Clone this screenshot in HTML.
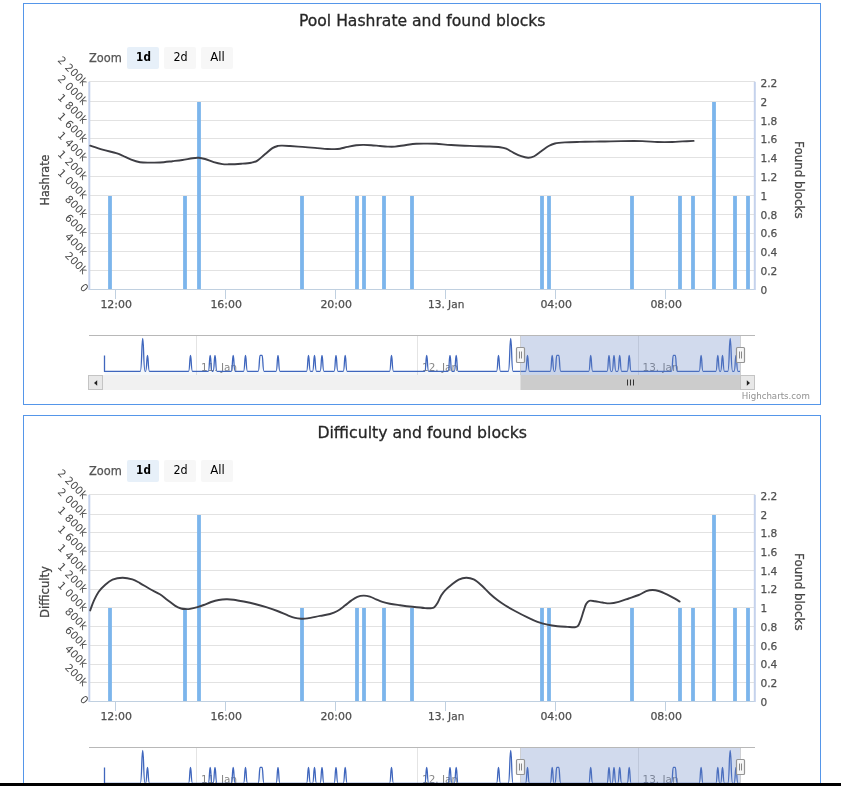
<!DOCTYPE html>
<html lang="en">
<head>
<meta charset="utf-8">
<title>Pool statistics</title>
<style>
html,body{margin:0;padding:0;background:#fff;overflow:hidden;}
body{width:841px;height:786px;position:relative;font-family:"DejaVu Sans", "Liberation Sans", sans-serif;}
.chart{position:absolute;left:23px;width:796px;height:400px;border:1px solid #5596e9;background:#fff;overflow:hidden;}
#hashrate{top:3px;}
#difficulty{top:415px;}
.chart svg{display:block;font-family:"DejaVu Sans", "Liberation Sans", sans-serif;}
.bar{position:absolute;left:0;top:783px;width:841px;height:3px;background:#000;}
</style>
</head>
<body>
<div class="chart" id="hashrate">
<svg width="796" height="400" viewBox="24 4 796 400">
<g stroke="#e2e2e2" stroke-width="1" fill="none">
<path d="M89.0 81.50H755.0"/>
<path d="M89.0 101.50H755.0"/>
<path d="M89.0 120.50H755.0"/>
<path d="M89.0 138.50H755.0"/>
<path d="M89.0 157.50H755.0"/>
<path d="M89.0 176.50H755.0"/>
<path d="M89.0 195.50H755.0"/>
<path d="M89.0 214.50H755.0"/>
<path d="M89.0 233.50H755.0"/>
<path d="M89.0 251.50H755.0"/>
<path d="M89.0 270.50H755.0"/>
</g>
<g fill="#7cb5ec">
<rect x="108.1" y="196.00" width="3.8" height="93.50"/>
<rect x="183.1" y="196.00" width="3.8" height="93.50"/>
<rect x="197.1" y="102.00" width="3.8" height="187.50"/>
<rect x="300.1" y="196.00" width="3.8" height="93.50"/>
<rect x="355.1" y="196.00" width="3.8" height="93.50"/>
<rect x="362.1" y="196.00" width="3.8" height="93.50"/>
<rect x="382.1" y="196.00" width="3.8" height="93.50"/>
<rect x="410.1" y="196.00" width="3.8" height="93.50"/>
<rect x="540.1" y="196.00" width="3.8" height="93.50"/>
<rect x="547.1" y="196.00" width="3.8" height="93.50"/>
<rect x="630.1" y="196.00" width="3.8" height="93.50"/>
<rect x="678.1" y="196.00" width="3.8" height="93.50"/>
<rect x="691.1" y="196.00" width="3.8" height="93.50"/>
<rect x="712.1" y="102.00" width="3.8" height="187.50"/>
<rect x="733.1" y="196.00" width="3.8" height="93.50"/>
<rect x="746.1" y="196.00" width="3.8" height="93.50"/>
</g>
<g stroke="#c0d0e0" stroke-width="1" fill="none">
<path d="M89.0 289.5H755.0"/>
<path d="M115.5 289.5V299.0"/>
<path d="M225.5 289.5V299.0"/>
<path d="M335.5 289.5V299.0"/>
<path d="M445.5 289.5V299.0"/>
<path d="M555.5 289.5V299.0"/>
<path d="M665.5 289.5V299.0"/>
</g>
<g stroke="#c5d2ec" stroke-width="2" fill="none">
<path d="M89.3 81.8V290.0"/>
<path d="M754.8 81.8V290.0"/>
</g>
<path d="M90.20 145.70C92.25 146.37 98.17 148.47 102.50 149.70C106.83 150.93 112.87 152.12 116.20 153.10C119.53 154.08 120.00 154.50 122.50 155.60C125.00 156.70 128.28 158.60 131.20 159.70C134.12 160.80 136.87 161.72 140.00 162.20C143.13 162.68 146.67 162.55 150.00 162.60C153.33 162.65 156.27 162.73 160.00 162.50C163.73 162.27 168.67 161.62 172.40 161.20C176.13 160.78 179.05 160.50 182.40 160.00C185.75 159.50 189.78 158.57 192.50 158.20C195.22 157.83 196.62 157.67 198.70 157.80C200.78 157.93 202.50 158.27 205.00 159.00C207.50 159.73 210.78 161.35 213.70 162.20C216.62 163.05 220.00 163.75 222.50 164.10C225.00 164.45 225.58 164.37 228.70 164.30C231.82 164.23 237.45 163.97 241.20 163.70C244.95 163.43 248.50 163.22 251.20 162.70C253.90 162.18 255.12 162.00 257.40 160.60C259.68 159.20 262.40 156.38 264.90 154.30C267.40 152.22 270.22 149.50 272.40 148.10C274.58 146.70 276.33 146.32 278.00 145.90C279.67 145.48 280.40 145.58 282.40 145.60C284.40 145.62 286.65 145.78 290.00 146.00C293.35 146.22 298.33 146.58 302.50 146.90C306.67 147.22 310.83 147.55 315.00 147.90C319.17 148.25 324.38 148.80 327.50 149.00C330.62 149.20 331.62 149.15 333.70 149.10C335.78 149.05 337.72 149.07 340.00 148.70C342.28 148.33 344.70 147.48 347.40 146.90C350.10 146.32 353.48 145.53 356.20 145.20C358.92 144.87 361.20 144.90 363.70 144.90C366.20 144.90 368.50 145.02 371.20 145.20C373.90 145.38 377.20 145.77 379.90 146.00C382.60 146.23 384.88 146.50 387.40 146.60C389.92 146.70 392.07 146.83 395.00 146.60C397.93 146.37 401.47 145.67 405.00 145.20C408.53 144.73 412.67 144.07 416.20 143.80C419.73 143.53 422.87 143.60 426.20 143.60C429.53 143.60 432.03 143.57 436.20 143.80C440.37 144.03 445.57 144.65 451.20 145.00C456.83 145.35 463.55 145.65 470.00 145.90C476.45 146.15 484.90 146.28 489.90 146.50C494.90 146.72 497.28 146.83 500.00 147.20C502.72 147.57 503.92 147.77 506.20 148.70C508.48 149.63 511.20 151.55 513.70 152.80C516.20 154.05 518.80 155.38 521.20 156.20C523.60 157.02 526.02 157.65 528.10 157.70C530.18 157.75 531.52 157.58 533.70 156.50C535.88 155.42 538.70 152.95 541.20 151.20C543.70 149.45 546.42 147.28 548.70 146.00C550.98 144.72 552.20 144.10 554.90 143.50C557.60 142.90 560.73 142.67 564.90 142.40C569.07 142.13 574.90 142.03 579.90 141.90C584.90 141.77 590.72 141.67 594.90 141.60C599.08 141.53 600.62 141.58 605.00 141.50C609.38 141.42 614.97 141.17 621.20 141.10C627.43 141.03 636.37 140.95 642.40 141.10C648.43 141.25 652.40 141.85 657.40 142.00C662.40 142.15 668.23 142.10 672.40 142.00C676.57 141.90 678.87 141.58 682.40 141.40C685.93 141.22 691.73 140.98 693.60 140.90" fill="none" stroke="#3e3e44" stroke-width="1.9" stroke-linejoin="round" stroke-linecap="round"/>
<text x="422.2" y="26" text-anchor="middle" font-size="16" fill="#262626" stroke="#262626" stroke-width="0.3" textLength="246.5" lengthAdjust="spacingAndGlyphs">Pool Hashrate and found blocks</text>
<text x="89" y="61.5" font-size="12" fill="#555" stroke="#555" stroke-width="0.25" textLength="32.8" lengthAdjust="spacingAndGlyphs">Zoom</text>
<rect x="127" y="47.0" width="32" height="22" rx="2" fill="#e7f0f9"/>
<text x="143.5" y="61.3" text-anchor="middle" font-size="12" fill="#000" font-weight="bold" textLength="14.8" lengthAdjust="spacingAndGlyphs">1d</text>
<rect x="164" y="47.0" width="32" height="22" rx="2" fill="#f7f7f7"/>
<text x="180.5" y="61.3" text-anchor="middle" font-size="12" fill="#000" textLength="14.2" lengthAdjust="spacingAndGlyphs">2d</text>
<rect x="201" y="47.0" width="32" height="22" rx="2" fill="#f7f7f7"/>
<text x="217.5" y="61.3" text-anchor="middle" font-size="12" fill="#000" textLength="14.6" lengthAdjust="spacingAndGlyphs">All</text>
<g font-size="10.6" fill="#4a4a4a" text-anchor="end" word-spacing="0.3">
<text x="83.0" y="86.7" transform="rotate(45 83.0 86.7)">2 200k</text>
<text x="83.0" y="105.5" transform="rotate(45 83.0 105.5)">2 000k</text>
<text x="83.0" y="124.3" transform="rotate(45 83.0 124.3)">1 800k</text>
<text x="83.0" y="143.1" transform="rotate(45 83.0 143.1)">1 600k</text>
<text x="83.0" y="161.9" transform="rotate(45 83.0 161.9)">1 400k</text>
<text x="83.0" y="180.7" transform="rotate(45 83.0 180.7)">1 200k</text>
<text x="83.0" y="199.6" transform="rotate(45 83.0 199.6)">1 000k</text>
<text x="83.0" y="218.4" transform="rotate(45 83.0 218.4)">800k</text>
<text x="83.0" y="237.2" transform="rotate(45 83.0 237.2)">600k</text>
<text x="83.0" y="256.0" transform="rotate(45 83.0 256.0)">400k</text>
<text x="83.0" y="274.8" transform="rotate(45 83.0 274.8)">200k</text>
<text x="84.0" y="292.8" transform="rotate(45 84.0 292.8)">0</text>
</g>
<g font-size="11" fill="#505050" stroke="#505050" stroke-width="0.25">
<text x="760.4" y="86.90" textLength="16.9" lengthAdjust="spacingAndGlyphs">2.2</text>
<text x="760.4" y="105.71" textLength="6.7" lengthAdjust="spacingAndGlyphs">2</text>
<text x="760.4" y="124.52" textLength="16.9" lengthAdjust="spacingAndGlyphs">1.8</text>
<text x="760.4" y="143.33" textLength="16.9" lengthAdjust="spacingAndGlyphs">1.6</text>
<text x="760.4" y="162.14" textLength="16.9" lengthAdjust="spacingAndGlyphs">1.4</text>
<text x="760.4" y="180.95" textLength="16.9" lengthAdjust="spacingAndGlyphs">1.2</text>
<text x="760.4" y="199.75" textLength="6.7" lengthAdjust="spacingAndGlyphs">1</text>
<text x="760.4" y="218.56" textLength="16.9" lengthAdjust="spacingAndGlyphs">0.8</text>
<text x="760.4" y="237.37" textLength="16.9" lengthAdjust="spacingAndGlyphs">0.6</text>
<text x="760.4" y="256.18" textLength="16.9" lengthAdjust="spacingAndGlyphs">0.4</text>
<text x="760.4" y="274.99" textLength="16.9" lengthAdjust="spacingAndGlyphs">0.2</text>
<text x="760.4" y="293.80" textLength="6.7" lengthAdjust="spacingAndGlyphs">0</text>
</g>
<g font-size="11" fill="#505050" stroke="#505050" stroke-width="0.25" text-anchor="middle">
<text x="116.2" y="308" textLength="31.6" lengthAdjust="spacingAndGlyphs">12:00</text>
<text x="226.2" y="308" textLength="31.6" lengthAdjust="spacingAndGlyphs">16:00</text>
<text x="336.2" y="308" textLength="31.6" lengthAdjust="spacingAndGlyphs">20:00</text>
<text x="446.2" y="308" textLength="36.3" lengthAdjust="spacingAndGlyphs">13. Jan</text>
<text x="556.2" y="308" textLength="31.6" lengthAdjust="spacingAndGlyphs">04:00</text>
<text x="666.2" y="308" textLength="31.6" lengthAdjust="spacingAndGlyphs">08:00</text>
</g>
<text x="49.4" y="180" text-anchor="middle" font-size="12" fill="#444" stroke="#444" stroke-width="0.25" transform="rotate(-90 49.4 180)" textLength="51" lengthAdjust="spacingAndGlyphs">Hashrate</text>
<text x="794.7" y="179.8" text-anchor="middle" font-size="12" fill="#444" stroke="#444" stroke-width="0.25" transform="rotate(90 794.7 179.8)" textLength="77.6" lengthAdjust="spacingAndGlyphs">Found blocks</text>
<g stroke="#e4e4e4" stroke-width="1" fill="none">
<path d="M196.5 336V375"/>
<path d="M417.5 336V375"/>
<path d="M638.5 336V375"/>
</g>
<g font-size="11" fill="#888">
<text x="201.0" y="371.2" textLength="36" lengthAdjust="spacingAndGlyphs">11. Jan</text>
<text x="422.0" y="371.2" textLength="36" lengthAdjust="spacingAndGlyphs">12. Jan</text>
<text x="642.5" y="371.2" textLength="36" lengthAdjust="spacingAndGlyphs">13. Jan</text>
</g>
<path d="M104.50 355.40 L104.50 371.40L140.20 371.40C141.95 371.40 141.57 338.40 142.70 338.40C143.82 338.40 143.45 371.40 145.20 371.40L145.50 371.40C146.90 371.40 146.60 355.40 147.50 355.40C148.40 355.40 148.10 371.40 149.50 371.40L188.50 371.40C189.90 371.40 189.60 355.40 190.50 355.40C191.40 355.40 191.10 371.40 192.50 371.40L208.20 371.40C209.60 371.40 209.30 355.40 210.20 355.40C211.10 355.40 210.80 371.40 212.20 371.40L213.00 371.40C214.40 371.40 214.10 355.40 215.00 355.40C215.90 355.40 215.60 371.40 217.00 371.40L231.20 371.40C232.60 371.40 232.30 355.40 233.20 355.40C234.10 355.40 233.80 371.40 235.20 371.40L243.50 371.40C244.90 371.40 244.60 355.40 245.50 355.40C246.40 355.40 246.10 371.40 247.50 371.40L258.10 371.40C259.50 371.40 259.20 355.40 260.10 355.40L262.10 355.40C263.00 355.40 262.70 371.40 264.10 371.40L276.00 371.40C277.40 371.40 277.10 355.40 278.00 355.40C278.90 355.40 278.60 371.40 280.00 371.40L306.50 371.40C307.90 371.40 307.60 355.40 308.50 355.40C309.40 355.40 309.10 371.40 310.50 371.40L312.50 371.40C313.90 371.40 313.60 355.40 314.50 355.40C315.40 355.40 315.10 371.40 316.50 371.40L320.00 371.40C321.40 371.40 321.10 355.40 322.00 355.40C322.90 355.40 322.60 371.40 324.00 371.40L334.00 371.40C335.40 371.40 335.10 355.40 336.00 355.40C336.90 355.40 336.60 371.40 338.00 371.40L343.20 371.40C344.60 371.40 344.30 355.40 345.20 355.40C346.10 355.40 345.80 371.40 347.20 371.40L389.50 371.40C390.90 371.40 390.60 355.40 391.50 355.40C392.40 355.40 392.10 371.40 393.50 371.40L424.70 371.40C426.10 371.40 425.80 355.40 426.70 355.40C427.60 355.40 427.30 371.40 428.70 371.40L448.00 371.40C449.40 371.40 449.10 355.40 450.00 355.40C450.90 355.40 450.60 371.40 452.00 371.40L454.20 371.40C455.60 371.40 455.30 355.40 456.20 355.40C457.10 355.40 456.80 371.40 458.20 371.40L496.50 371.40C497.90 371.40 497.60 355.40 498.50 355.40C499.40 355.40 499.10 371.40 500.50 371.40L508.20 371.40C509.95 371.40 509.57 338.40 510.70 338.40C511.82 338.40 511.45 371.40 513.20 371.40L525.50 371.40C526.90 371.40 526.60 355.40 527.50 355.40C528.40 355.40 528.10 371.40 529.50 371.40L550.20 371.40C551.60 371.40 551.30 355.40 552.20 355.40C553.10 355.40 552.80 371.40 554.20 371.40L554.80 371.40C556.20 371.40 555.90 355.40 556.80 355.40L558.80 355.40C559.70 355.40 559.40 371.40 560.80 371.40L588.70 371.40C590.10 371.40 589.80 355.40 590.70 355.40C591.60 355.40 591.30 371.40 592.70 371.40L607.00 371.40C608.40 371.40 608.10 355.40 609.00 355.40C609.90 355.40 609.60 371.40 611.00 371.40L612.00 371.40C613.40 371.40 613.10 355.40 614.00 355.40C614.90 355.40 614.60 371.40 616.00 371.40L617.70 371.40C619.10 371.40 618.80 355.40 619.70 355.40C620.60 355.40 620.30 371.40 621.70 371.40L627.20 371.40C628.60 371.40 628.30 355.40 629.20 355.40C630.10 355.40 629.80 371.40 631.20 371.40L671.30 371.40C672.70 371.40 672.40 355.40 673.30 355.40L675.30 355.40C676.20 355.40 675.90 371.40 677.30 371.40L699.10 371.40C700.50 371.40 700.20 355.40 701.10 355.40C702.00 355.40 701.70 371.40 703.10 371.40L715.80 371.40C717.20 371.40 716.90 355.40 717.80 355.40C718.70 355.40 718.40 371.40 719.80 371.40L720.50 371.40C721.90 371.40 721.60 355.40 722.50 355.40C723.40 355.40 723.10 371.40 724.50 371.40L727.70 371.40C729.45 371.40 729.08 338.40 730.20 338.40C731.33 338.40 730.95 371.40 732.70 371.40L734.00 371.40C735.40 371.40 735.10 355.40 736.00 355.40C736.90 355.40 736.60 371.40 738.00 371.40L740.00 371.40 L740 375 L104.5 375Z" fill="#4572a7" fill-opacity="0.06" stroke="none"/>
<path d="M104.50 355.40 L104.50 371.40L140.20 371.40C141.95 371.40 141.57 338.40 142.70 338.40C143.82 338.40 143.45 371.40 145.20 371.40L145.50 371.40C146.90 371.40 146.60 355.40 147.50 355.40C148.40 355.40 148.10 371.40 149.50 371.40L188.50 371.40C189.90 371.40 189.60 355.40 190.50 355.40C191.40 355.40 191.10 371.40 192.50 371.40L208.20 371.40C209.60 371.40 209.30 355.40 210.20 355.40C211.10 355.40 210.80 371.40 212.20 371.40L213.00 371.40C214.40 371.40 214.10 355.40 215.00 355.40C215.90 355.40 215.60 371.40 217.00 371.40L231.20 371.40C232.60 371.40 232.30 355.40 233.20 355.40C234.10 355.40 233.80 371.40 235.20 371.40L243.50 371.40C244.90 371.40 244.60 355.40 245.50 355.40C246.40 355.40 246.10 371.40 247.50 371.40L258.10 371.40C259.50 371.40 259.20 355.40 260.10 355.40L262.10 355.40C263.00 355.40 262.70 371.40 264.10 371.40L276.00 371.40C277.40 371.40 277.10 355.40 278.00 355.40C278.90 355.40 278.60 371.40 280.00 371.40L306.50 371.40C307.90 371.40 307.60 355.40 308.50 355.40C309.40 355.40 309.10 371.40 310.50 371.40L312.50 371.40C313.90 371.40 313.60 355.40 314.50 355.40C315.40 355.40 315.10 371.40 316.50 371.40L320.00 371.40C321.40 371.40 321.10 355.40 322.00 355.40C322.90 355.40 322.60 371.40 324.00 371.40L334.00 371.40C335.40 371.40 335.10 355.40 336.00 355.40C336.90 355.40 336.60 371.40 338.00 371.40L343.20 371.40C344.60 371.40 344.30 355.40 345.20 355.40C346.10 355.40 345.80 371.40 347.20 371.40L389.50 371.40C390.90 371.40 390.60 355.40 391.50 355.40C392.40 355.40 392.10 371.40 393.50 371.40L424.70 371.40C426.10 371.40 425.80 355.40 426.70 355.40C427.60 355.40 427.30 371.40 428.70 371.40L448.00 371.40C449.40 371.40 449.10 355.40 450.00 355.40C450.90 355.40 450.60 371.40 452.00 371.40L454.20 371.40C455.60 371.40 455.30 355.40 456.20 355.40C457.10 355.40 456.80 371.40 458.20 371.40L496.50 371.40C497.90 371.40 497.60 355.40 498.50 355.40C499.40 355.40 499.10 371.40 500.50 371.40L508.20 371.40C509.95 371.40 509.57 338.40 510.70 338.40C511.82 338.40 511.45 371.40 513.20 371.40L525.50 371.40C526.90 371.40 526.60 355.40 527.50 355.40C528.40 355.40 528.10 371.40 529.50 371.40L550.20 371.40C551.60 371.40 551.30 355.40 552.20 355.40C553.10 355.40 552.80 371.40 554.20 371.40L554.80 371.40C556.20 371.40 555.90 355.40 556.80 355.40L558.80 355.40C559.70 355.40 559.40 371.40 560.80 371.40L588.70 371.40C590.10 371.40 589.80 355.40 590.70 355.40C591.60 355.40 591.30 371.40 592.70 371.40L607.00 371.40C608.40 371.40 608.10 355.40 609.00 355.40C609.90 355.40 609.60 371.40 611.00 371.40L612.00 371.40C613.40 371.40 613.10 355.40 614.00 355.40C614.90 355.40 614.60 371.40 616.00 371.40L617.70 371.40C619.10 371.40 618.80 355.40 619.70 355.40C620.60 355.40 620.30 371.40 621.70 371.40L627.20 371.40C628.60 371.40 628.30 355.40 629.20 355.40C630.10 355.40 629.80 371.40 631.20 371.40L671.30 371.40C672.70 371.40 672.40 355.40 673.30 355.40L675.30 355.40C676.20 355.40 675.90 371.40 677.30 371.40L699.10 371.40C700.50 371.40 700.20 355.40 701.10 355.40C702.00 355.40 701.70 371.40 703.10 371.40L715.80 371.40C717.20 371.40 716.90 355.40 717.80 355.40C718.70 355.40 718.40 371.40 719.80 371.40L720.50 371.40C721.90 371.40 721.60 355.40 722.50 355.40C723.40 355.40 723.10 371.40 724.50 371.40L727.70 371.40C729.45 371.40 729.08 338.40 730.20 338.40C731.33 338.40 730.95 371.40 732.70 371.40L734.00 371.40C735.40 371.40 735.10 355.40 736.00 355.40C736.90 355.40 736.60 371.40 738.00 371.40L740.00 371.40" fill="none" stroke="#3f66bd" stroke-width="1.3" stroke-linejoin="round"/>
<rect x="520.5" y="336" width="220" height="39" fill="rgb(102,133,194)" fill-opacity="0.3"/>
<path d="M520.5 336V375M740.5 336V375" stroke="#b8b8b8" stroke-opacity="0.55" stroke-width="1" fill="none"/>
<path d="M89 335.5H755" stroke="#b8b8b8" stroke-width="1" fill="none"/>
<rect x="89" y="375" width="666" height="15" fill="#f1f1f1"/>
<rect x="520.5" y="375" width="220" height="15" fill="#cccccc"/>
<path d="M627.5 379.5V385.5M630.5 379.5V385.5M633.5 379.5V385.5" stroke="#333" stroke-width="1" fill="none"/>
<rect x="88.5" y="375.5" width="14" height="14" fill="#e8e8e8" stroke="#c4c4c4" stroke-width="1"/>
<rect x="740.5" y="375.5" width="14" height="14" fill="#e8e8e8" stroke="#c4c4c4" stroke-width="1"/>
<path d="M94 383L97.2 380.2V385.8Z" fill="#222"/>
<path d="M750 383L746.8 380.2V385.8Z" fill="#222"/>
<rect x="516.5" y="347.5" width="8" height="15" rx="1" fill="#f6f6f6" stroke="#959595" stroke-width="1.2"/>
<path d="M519.5 351.5V358.5M521.5 351.5V358.5" stroke="#888" stroke-width="1" fill="none"/>
<rect x="736.5" y="347.5" width="8" height="15" rx="1" fill="#f6f6f6" stroke="#959595" stroke-width="1.2"/>
<path d="M739.5 351.5V358.5M741.5 351.5V358.5" stroke="#888" stroke-width="1" fill="none"/>
<text x="809.8" y="399" text-anchor="end" font-size="9" fill="#909090" textLength="68" lengthAdjust="spacingAndGlyphs">Highcharts.com</text>
</svg>
</div>
<div class="chart" id="difficulty">
<svg width="796" height="400" viewBox="24 4 796 400">
<g stroke="#e2e2e2" stroke-width="1" fill="none">
<path d="M89.0 82.50H755.0"/>
<path d="M89.0 102.50H755.0"/>
<path d="M89.0 120.50H755.0"/>
<path d="M89.0 139.50H755.0"/>
<path d="M89.0 158.50H755.0"/>
<path d="M89.0 177.50H755.0"/>
<path d="M89.0 195.50H755.0"/>
<path d="M89.0 214.50H755.0"/>
<path d="M89.0 233.50H755.0"/>
<path d="M89.0 252.50H755.0"/>
<path d="M89.0 270.50H755.0"/>
</g>
<g fill="#7cb5ec">
<rect x="108.1" y="196.00" width="3.8" height="93.50"/>
<rect x="183.1" y="196.00" width="3.8" height="93.50"/>
<rect x="197.1" y="103.00" width="3.8" height="186.50"/>
<rect x="300.1" y="196.00" width="3.8" height="93.50"/>
<rect x="355.1" y="196.00" width="3.8" height="93.50"/>
<rect x="362.1" y="196.00" width="3.8" height="93.50"/>
<rect x="382.1" y="196.00" width="3.8" height="93.50"/>
<rect x="410.1" y="196.00" width="3.8" height="93.50"/>
<rect x="540.1" y="196.00" width="3.8" height="93.50"/>
<rect x="547.1" y="196.00" width="3.8" height="93.50"/>
<rect x="630.1" y="196.00" width="3.8" height="93.50"/>
<rect x="678.1" y="196.00" width="3.8" height="93.50"/>
<rect x="691.1" y="196.00" width="3.8" height="93.50"/>
<rect x="712.1" y="103.00" width="3.8" height="186.50"/>
<rect x="733.1" y="196.00" width="3.8" height="93.50"/>
<rect x="746.1" y="196.00" width="3.8" height="93.50"/>
</g>
<g stroke="#c0d0e0" stroke-width="1" fill="none">
<path d="M89.0 289.5H755.0"/>
<path d="M115.5 289.5V299.0"/>
<path d="M225.5 289.5V299.0"/>
<path d="M335.5 289.5V299.0"/>
<path d="M445.5 289.5V299.0"/>
<path d="M555.5 289.5V299.0"/>
<path d="M665.5 289.5V299.0"/>
</g>
<g stroke="#c5d2ec" stroke-width="2" fill="none">
<path d="M89.3 82.8V290.0"/>
<path d="M754.8 82.8V290.0"/>
</g>
<path d="M90.20 198.40C90.78 196.87 92.28 192.30 93.70 189.20C95.12 186.10 96.82 182.50 98.70 179.80C100.58 177.10 102.70 175.02 105.00 173.00C107.30 170.98 109.58 168.92 112.50 167.70C115.42 166.48 119.18 165.75 122.50 165.70C125.82 165.65 129.50 166.50 132.40 167.40C135.30 168.30 136.98 169.50 139.90 171.10C142.82 172.70 146.57 175.13 149.90 177.00C153.23 178.87 156.98 180.47 159.90 182.30C162.82 184.13 164.90 186.12 167.40 188.00C169.90 189.88 172.62 192.18 174.90 193.60C177.18 195.02 179.23 195.92 181.10 196.50C182.97 197.08 184.62 197.03 186.10 197.10C187.58 197.17 188.10 197.23 190.00 196.90C191.90 196.57 195.22 195.75 197.50 195.10C199.78 194.45 201.42 193.85 203.70 193.00C205.98 192.15 208.70 190.83 211.20 190.00C213.70 189.17 216.20 188.45 218.70 188.00C221.20 187.55 223.70 187.35 226.20 187.30C228.70 187.25 230.78 187.33 233.70 187.70C236.62 188.07 240.17 188.78 243.70 189.50C247.23 190.22 251.15 191.05 254.90 192.00C258.65 192.95 262.45 194.03 266.20 195.20C269.95 196.37 273.87 197.67 277.40 199.00C280.93 200.33 284.47 202.05 287.40 203.20C290.33 204.35 292.70 205.32 295.00 205.90C297.30 206.48 299.12 206.62 301.20 206.70C303.28 206.78 304.37 206.87 307.50 206.40C310.63 205.93 316.25 204.63 320.00 203.90C323.75 203.17 327.10 202.82 330.00 202.00C332.90 201.18 334.92 200.40 337.40 199.00C339.88 197.60 342.60 195.33 344.90 193.60C347.20 191.87 349.12 190.07 351.20 188.60C353.28 187.13 355.32 185.63 357.40 184.80C359.48 183.97 361.62 183.63 363.70 183.60C365.78 183.57 367.83 183.98 369.90 184.60C371.97 185.22 374.02 186.43 376.10 187.30C378.18 188.17 380.10 189.07 382.40 189.80C384.70 190.53 386.97 191.13 389.90 191.70C392.83 192.27 396.23 192.68 400.00 193.20C403.77 193.72 408.33 194.32 412.50 194.80C416.67 195.28 421.88 195.87 425.00 196.10C428.12 196.33 429.65 196.35 431.20 196.20C432.75 196.05 433.25 196.05 434.30 195.20C435.35 194.35 436.35 193.03 437.50 191.10C438.65 189.17 439.97 185.68 441.20 183.60C442.43 181.52 443.23 180.37 444.90 178.60C446.57 176.83 448.90 174.82 451.20 173.00C453.50 171.18 456.20 168.92 458.70 167.70C461.20 166.48 463.70 165.75 466.20 165.70C468.70 165.65 471.22 166.18 473.70 167.40C476.18 168.62 478.40 170.62 481.10 173.00C483.80 175.38 487.18 179.20 489.90 181.70C492.62 184.20 494.88 186.08 497.40 188.00C499.92 189.92 502.07 191.37 505.00 193.20C507.93 195.03 511.25 196.97 515.00 199.00C518.75 201.03 523.75 203.60 527.50 205.40C531.25 207.20 534.18 208.60 537.50 209.80C540.82 211.00 544.08 211.87 547.40 212.60C550.72 213.33 554.07 213.82 557.40 214.20C560.73 214.58 564.48 214.73 567.40 214.90C570.32 215.07 573.13 215.37 574.90 215.20C576.67 215.03 577.07 215.00 578.00 213.90C578.93 212.80 579.55 211.15 580.50 208.60C581.45 206.05 582.77 201.37 583.70 198.60C584.63 195.83 585.17 193.63 586.10 192.00C587.03 190.37 587.83 189.27 589.30 188.80C590.77 188.33 592.72 188.92 594.90 189.20C597.08 189.48 599.88 190.13 602.40 190.50C604.92 190.87 607.28 191.52 610.00 191.40C612.72 191.28 615.58 190.62 618.70 189.80C621.82 188.98 625.37 187.63 628.70 186.50C632.03 185.37 635.78 184.22 638.70 183.00C641.62 181.78 643.92 180.03 646.20 179.20C648.48 178.37 650.32 178.03 652.40 178.00C654.48 177.97 656.20 178.22 658.70 179.00C661.20 179.78 664.70 181.42 667.40 182.70C670.10 183.98 672.87 185.57 674.90 186.70C676.93 187.83 678.82 189.03 679.60 189.50" fill="none" stroke="#3e3e44" stroke-width="1.9" stroke-linejoin="round" stroke-linecap="round"/>
<text x="422.2" y="26" text-anchor="middle" font-size="16" fill="#262626" stroke="#262626" stroke-width="0.3" textLength="209.6" lengthAdjust="spacingAndGlyphs">Difficulty and found blocks</text>
<text x="89" y="62.5" font-size="12" fill="#555" stroke="#555" stroke-width="0.25" textLength="32.8" lengthAdjust="spacingAndGlyphs">Zoom</text>
<rect x="127" y="48.0" width="32" height="22" rx="2" fill="#e7f0f9"/>
<text x="143.5" y="62.3" text-anchor="middle" font-size="12" fill="#000" font-weight="bold" textLength="14.8" lengthAdjust="spacingAndGlyphs">1d</text>
<rect x="164" y="48.0" width="32" height="22" rx="2" fill="#f7f7f7"/>
<text x="180.5" y="62.3" text-anchor="middle" font-size="12" fill="#000" textLength="14.2" lengthAdjust="spacingAndGlyphs">2d</text>
<rect x="201" y="48.0" width="32" height="22" rx="2" fill="#f7f7f7"/>
<text x="217.5" y="62.3" text-anchor="middle" font-size="12" fill="#000" textLength="14.6" lengthAdjust="spacingAndGlyphs">All</text>
<g font-size="10.6" fill="#4a4a4a" text-anchor="end" word-spacing="0.3">
<text x="83.0" y="87.7" transform="rotate(45 83.0 87.7)">2 200k</text>
<text x="83.0" y="106.4" transform="rotate(45 83.0 106.4)">2 000k</text>
<text x="83.0" y="125.1" transform="rotate(45 83.0 125.1)">1 800k</text>
<text x="83.0" y="143.9" transform="rotate(45 83.0 143.9)">1 600k</text>
<text x="83.0" y="162.6" transform="rotate(45 83.0 162.6)">1 400k</text>
<text x="83.0" y="181.3" transform="rotate(45 83.0 181.3)">1 200k</text>
<text x="83.0" y="200.0" transform="rotate(45 83.0 200.0)">1 000k</text>
<text x="83.0" y="218.7" transform="rotate(45 83.0 218.7)">800k</text>
<text x="83.0" y="237.4" transform="rotate(45 83.0 237.4)">600k</text>
<text x="83.0" y="256.2" transform="rotate(45 83.0 256.2)">400k</text>
<text x="83.0" y="274.9" transform="rotate(45 83.0 274.9)">200k</text>
<text x="84.0" y="292.8" transform="rotate(45 84.0 292.8)">0</text>
</g>
<g font-size="11" fill="#505050" stroke="#505050" stroke-width="0.25">
<text x="760.4" y="87.90" textLength="16.9" lengthAdjust="spacingAndGlyphs">2.2</text>
<text x="760.4" y="106.62" textLength="6.7" lengthAdjust="spacingAndGlyphs">2</text>
<text x="760.4" y="125.34" textLength="16.9" lengthAdjust="spacingAndGlyphs">1.8</text>
<text x="760.4" y="144.05" textLength="16.9" lengthAdjust="spacingAndGlyphs">1.6</text>
<text x="760.4" y="162.77" textLength="16.9" lengthAdjust="spacingAndGlyphs">1.4</text>
<text x="760.4" y="181.49" textLength="16.9" lengthAdjust="spacingAndGlyphs">1.2</text>
<text x="760.4" y="200.21" textLength="6.7" lengthAdjust="spacingAndGlyphs">1</text>
<text x="760.4" y="218.93" textLength="16.9" lengthAdjust="spacingAndGlyphs">0.8</text>
<text x="760.4" y="237.65" textLength="16.9" lengthAdjust="spacingAndGlyphs">0.6</text>
<text x="760.4" y="256.36" textLength="16.9" lengthAdjust="spacingAndGlyphs">0.4</text>
<text x="760.4" y="275.08" textLength="16.9" lengthAdjust="spacingAndGlyphs">0.2</text>
<text x="760.4" y="293.80" textLength="6.7" lengthAdjust="spacingAndGlyphs">0</text>
</g>
<g font-size="11" fill="#505050" stroke="#505050" stroke-width="0.25" text-anchor="middle">
<text x="116.2" y="308" textLength="31.6" lengthAdjust="spacingAndGlyphs">12:00</text>
<text x="226.2" y="308" textLength="31.6" lengthAdjust="spacingAndGlyphs">16:00</text>
<text x="336.2" y="308" textLength="31.6" lengthAdjust="spacingAndGlyphs">20:00</text>
<text x="446.2" y="308" textLength="36.3" lengthAdjust="spacingAndGlyphs">13. Jan</text>
<text x="556.2" y="308" textLength="31.6" lengthAdjust="spacingAndGlyphs">04:00</text>
<text x="666.2" y="308" textLength="31.6" lengthAdjust="spacingAndGlyphs">08:00</text>
</g>
<text x="49.4" y="180" text-anchor="middle" font-size="12" fill="#444" stroke="#444" stroke-width="0.25" transform="rotate(-90 49.4 180)" textLength="51.8" lengthAdjust="spacingAndGlyphs">Difficulty</text>
<text x="794.7" y="179.8" text-anchor="middle" font-size="12" fill="#444" stroke="#444" stroke-width="0.25" transform="rotate(90 794.7 179.8)" textLength="77.6" lengthAdjust="spacingAndGlyphs">Found blocks</text>
<g stroke="#e4e4e4" stroke-width="1" fill="none">
<path d="M196.5 336V375"/>
<path d="M417.5 336V375"/>
<path d="M638.5 336V375"/>
</g>
<g font-size="11" fill="#888">
<text x="201.0" y="371.2" textLength="36" lengthAdjust="spacingAndGlyphs">11. Jan</text>
<text x="422.0" y="371.2" textLength="36" lengthAdjust="spacingAndGlyphs">12. Jan</text>
<text x="642.5" y="371.2" textLength="36" lengthAdjust="spacingAndGlyphs">13. Jan</text>
</g>
<path d="M104.50 355.40 L104.50 371.40L140.20 371.40C141.95 371.40 141.57 338.40 142.70 338.40C143.82 338.40 143.45 371.40 145.20 371.40L145.50 371.40C146.90 371.40 146.60 355.40 147.50 355.40C148.40 355.40 148.10 371.40 149.50 371.40L188.50 371.40C189.90 371.40 189.60 355.40 190.50 355.40C191.40 355.40 191.10 371.40 192.50 371.40L208.20 371.40C209.60 371.40 209.30 355.40 210.20 355.40C211.10 355.40 210.80 371.40 212.20 371.40L213.00 371.40C214.40 371.40 214.10 355.40 215.00 355.40C215.90 355.40 215.60 371.40 217.00 371.40L231.20 371.40C232.60 371.40 232.30 355.40 233.20 355.40C234.10 355.40 233.80 371.40 235.20 371.40L243.50 371.40C244.90 371.40 244.60 355.40 245.50 355.40C246.40 355.40 246.10 371.40 247.50 371.40L258.10 371.40C259.50 371.40 259.20 355.40 260.10 355.40L262.10 355.40C263.00 355.40 262.70 371.40 264.10 371.40L276.00 371.40C277.40 371.40 277.10 355.40 278.00 355.40C278.90 355.40 278.60 371.40 280.00 371.40L306.50 371.40C307.90 371.40 307.60 355.40 308.50 355.40C309.40 355.40 309.10 371.40 310.50 371.40L312.50 371.40C313.90 371.40 313.60 355.40 314.50 355.40C315.40 355.40 315.10 371.40 316.50 371.40L320.00 371.40C321.40 371.40 321.10 355.40 322.00 355.40C322.90 355.40 322.60 371.40 324.00 371.40L334.00 371.40C335.40 371.40 335.10 355.40 336.00 355.40C336.90 355.40 336.60 371.40 338.00 371.40L343.20 371.40C344.60 371.40 344.30 355.40 345.20 355.40C346.10 355.40 345.80 371.40 347.20 371.40L389.50 371.40C390.90 371.40 390.60 355.40 391.50 355.40C392.40 355.40 392.10 371.40 393.50 371.40L424.70 371.40C426.10 371.40 425.80 355.40 426.70 355.40C427.60 355.40 427.30 371.40 428.70 371.40L448.00 371.40C449.40 371.40 449.10 355.40 450.00 355.40C450.90 355.40 450.60 371.40 452.00 371.40L454.20 371.40C455.60 371.40 455.30 355.40 456.20 355.40C457.10 355.40 456.80 371.40 458.20 371.40L496.50 371.40C497.90 371.40 497.60 355.40 498.50 355.40C499.40 355.40 499.10 371.40 500.50 371.40L508.20 371.40C509.95 371.40 509.57 338.40 510.70 338.40C511.82 338.40 511.45 371.40 513.20 371.40L525.50 371.40C526.90 371.40 526.60 355.40 527.50 355.40C528.40 355.40 528.10 371.40 529.50 371.40L550.20 371.40C551.60 371.40 551.30 355.40 552.20 355.40C553.10 355.40 552.80 371.40 554.20 371.40L554.80 371.40C556.20 371.40 555.90 355.40 556.80 355.40L558.80 355.40C559.70 355.40 559.40 371.40 560.80 371.40L588.70 371.40C590.10 371.40 589.80 355.40 590.70 355.40C591.60 355.40 591.30 371.40 592.70 371.40L607.00 371.40C608.40 371.40 608.10 355.40 609.00 355.40C609.90 355.40 609.60 371.40 611.00 371.40L612.00 371.40C613.40 371.40 613.10 355.40 614.00 355.40C614.90 355.40 614.60 371.40 616.00 371.40L617.70 371.40C619.10 371.40 618.80 355.40 619.70 355.40C620.60 355.40 620.30 371.40 621.70 371.40L627.20 371.40C628.60 371.40 628.30 355.40 629.20 355.40C630.10 355.40 629.80 371.40 631.20 371.40L671.30 371.40C672.70 371.40 672.40 355.40 673.30 355.40L675.30 355.40C676.20 355.40 675.90 371.40 677.30 371.40L699.10 371.40C700.50 371.40 700.20 355.40 701.10 355.40C702.00 355.40 701.70 371.40 703.10 371.40L715.80 371.40C717.20 371.40 716.90 355.40 717.80 355.40C718.70 355.40 718.40 371.40 719.80 371.40L720.50 371.40C721.90 371.40 721.60 355.40 722.50 355.40C723.40 355.40 723.10 371.40 724.50 371.40L727.70 371.40C729.45 371.40 729.08 338.40 730.20 338.40C731.33 338.40 730.95 371.40 732.70 371.40L734.00 371.40C735.40 371.40 735.10 355.40 736.00 355.40C736.90 355.40 736.60 371.40 738.00 371.40L740.00 371.40 L740 375 L104.5 375Z" fill="#4572a7" fill-opacity="0.06" stroke="none"/>
<path d="M104.50 355.40 L104.50 371.40L140.20 371.40C141.95 371.40 141.57 338.40 142.70 338.40C143.82 338.40 143.45 371.40 145.20 371.40L145.50 371.40C146.90 371.40 146.60 355.40 147.50 355.40C148.40 355.40 148.10 371.40 149.50 371.40L188.50 371.40C189.90 371.40 189.60 355.40 190.50 355.40C191.40 355.40 191.10 371.40 192.50 371.40L208.20 371.40C209.60 371.40 209.30 355.40 210.20 355.40C211.10 355.40 210.80 371.40 212.20 371.40L213.00 371.40C214.40 371.40 214.10 355.40 215.00 355.40C215.90 355.40 215.60 371.40 217.00 371.40L231.20 371.40C232.60 371.40 232.30 355.40 233.20 355.40C234.10 355.40 233.80 371.40 235.20 371.40L243.50 371.40C244.90 371.40 244.60 355.40 245.50 355.40C246.40 355.40 246.10 371.40 247.50 371.40L258.10 371.40C259.50 371.40 259.20 355.40 260.10 355.40L262.10 355.40C263.00 355.40 262.70 371.40 264.10 371.40L276.00 371.40C277.40 371.40 277.10 355.40 278.00 355.40C278.90 355.40 278.60 371.40 280.00 371.40L306.50 371.40C307.90 371.40 307.60 355.40 308.50 355.40C309.40 355.40 309.10 371.40 310.50 371.40L312.50 371.40C313.90 371.40 313.60 355.40 314.50 355.40C315.40 355.40 315.10 371.40 316.50 371.40L320.00 371.40C321.40 371.40 321.10 355.40 322.00 355.40C322.90 355.40 322.60 371.40 324.00 371.40L334.00 371.40C335.40 371.40 335.10 355.40 336.00 355.40C336.90 355.40 336.60 371.40 338.00 371.40L343.20 371.40C344.60 371.40 344.30 355.40 345.20 355.40C346.10 355.40 345.80 371.40 347.20 371.40L389.50 371.40C390.90 371.40 390.60 355.40 391.50 355.40C392.40 355.40 392.10 371.40 393.50 371.40L424.70 371.40C426.10 371.40 425.80 355.40 426.70 355.40C427.60 355.40 427.30 371.40 428.70 371.40L448.00 371.40C449.40 371.40 449.10 355.40 450.00 355.40C450.90 355.40 450.60 371.40 452.00 371.40L454.20 371.40C455.60 371.40 455.30 355.40 456.20 355.40C457.10 355.40 456.80 371.40 458.20 371.40L496.50 371.40C497.90 371.40 497.60 355.40 498.50 355.40C499.40 355.40 499.10 371.40 500.50 371.40L508.20 371.40C509.95 371.40 509.57 338.40 510.70 338.40C511.82 338.40 511.45 371.40 513.20 371.40L525.50 371.40C526.90 371.40 526.60 355.40 527.50 355.40C528.40 355.40 528.10 371.40 529.50 371.40L550.20 371.40C551.60 371.40 551.30 355.40 552.20 355.40C553.10 355.40 552.80 371.40 554.20 371.40L554.80 371.40C556.20 371.40 555.90 355.40 556.80 355.40L558.80 355.40C559.70 355.40 559.40 371.40 560.80 371.40L588.70 371.40C590.10 371.40 589.80 355.40 590.70 355.40C591.60 355.40 591.30 371.40 592.70 371.40L607.00 371.40C608.40 371.40 608.10 355.40 609.00 355.40C609.90 355.40 609.60 371.40 611.00 371.40L612.00 371.40C613.40 371.40 613.10 355.40 614.00 355.40C614.90 355.40 614.60 371.40 616.00 371.40L617.70 371.40C619.10 371.40 618.80 355.40 619.70 355.40C620.60 355.40 620.30 371.40 621.70 371.40L627.20 371.40C628.60 371.40 628.30 355.40 629.20 355.40C630.10 355.40 629.80 371.40 631.20 371.40L671.30 371.40C672.70 371.40 672.40 355.40 673.30 355.40L675.30 355.40C676.20 355.40 675.90 371.40 677.30 371.40L699.10 371.40C700.50 371.40 700.20 355.40 701.10 355.40C702.00 355.40 701.70 371.40 703.10 371.40L715.80 371.40C717.20 371.40 716.90 355.40 717.80 355.40C718.70 355.40 718.40 371.40 719.80 371.40L720.50 371.40C721.90 371.40 721.60 355.40 722.50 355.40C723.40 355.40 723.10 371.40 724.50 371.40L727.70 371.40C729.45 371.40 729.08 338.40 730.20 338.40C731.33 338.40 730.95 371.40 732.70 371.40L734.00 371.40C735.40 371.40 735.10 355.40 736.00 355.40C736.90 355.40 736.60 371.40 738.00 371.40L740.00 371.40" fill="none" stroke="#3f66bd" stroke-width="1.3" stroke-linejoin="round"/>
<rect x="520.5" y="336" width="220" height="39" fill="rgb(102,133,194)" fill-opacity="0.3"/>
<path d="M520.5 336V375M740.5 336V375" stroke="#b8b8b8" stroke-opacity="0.55" stroke-width="1" fill="none"/>
<path d="M89 335.5H755" stroke="#b8b8b8" stroke-width="1" fill="none"/>
<rect x="89" y="375" width="666" height="15" fill="#f1f1f1"/>
<rect x="520.5" y="375" width="220" height="15" fill="#cccccc"/>
<path d="M627.5 379.5V385.5M630.5 379.5V385.5M633.5 379.5V385.5" stroke="#333" stroke-width="1" fill="none"/>
<rect x="88.5" y="375.5" width="14" height="14" fill="#e8e8e8" stroke="#c4c4c4" stroke-width="1"/>
<rect x="740.5" y="375.5" width="14" height="14" fill="#e8e8e8" stroke="#c4c4c4" stroke-width="1"/>
<path d="M94 383L97.2 380.2V385.8Z" fill="#222"/>
<path d="M750 383L746.8 380.2V385.8Z" fill="#222"/>
<rect x="516.5" y="347.5" width="8" height="15" rx="1" fill="#f6f6f6" stroke="#959595" stroke-width="1.2"/>
<path d="M519.5 351.5V358.5M521.5 351.5V358.5" stroke="#888" stroke-width="1" fill="none"/>
<rect x="736.5" y="347.5" width="8" height="15" rx="1" fill="#f6f6f6" stroke="#959595" stroke-width="1.2"/>
<path d="M739.5 351.5V358.5M741.5 351.5V358.5" stroke="#888" stroke-width="1" fill="none"/>
<text x="809.8" y="399" text-anchor="end" font-size="9" fill="#909090" textLength="68" lengthAdjust="spacingAndGlyphs">Highcharts.com</text>
</svg>
</div>
<div class="bar"></div>
</body>
</html>
